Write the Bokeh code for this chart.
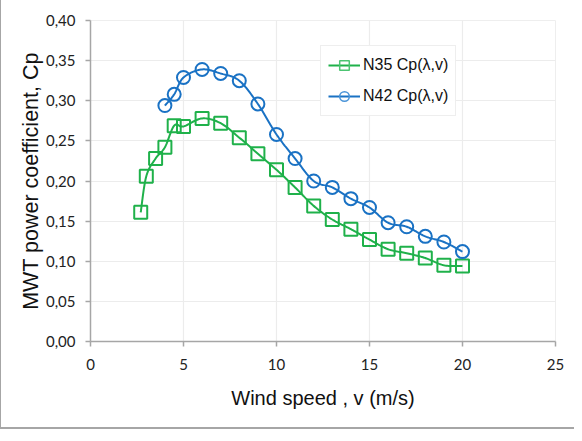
import numpy as np
from bokeh.plotting import figure
from bokeh.models import Legend, LegendItem, FixedTicker, Range1d
from bokeh.embed import file_html
from bokeh.resources import INLINE

# Data
v_n35 = [2.7, 3.0, 3.5, 4.0, 4.5, 5.0, 6, 7, 8, 9, 10, 11, 12, 13, 14, 15, 16, 17, 18, 19, 20]
cp_n35 = [0.161, 0.206, 0.228, 0.242, 0.269, 0.268, 0.278, 0.272, 0.254, 0.234, 0.214,
          0.192, 0.169, 0.152, 0.140, 0.127, 0.115, 0.110, 0.104, 0.095, 0.094]
v_n42 = [4.0, 4.5, 5.0, 6, 7, 8, 9, 10, 11, 12, 13, 14, 15, 16, 17, 18, 19, 20]
cp_n42 = [0.294, 0.308, 0.329, 0.339, 0.334, 0.325, 0.296, 0.258, 0.228, 0.200,
          0.192, 0.178, 0.167, 0.148, 0.143, 0.131, 0.124, 0.112]
x_ticks = [0, 5, 10, 15, 20, 25]
y_ticks = [0.00, 0.05, 0.10, 0.15, 0.20, 0.25, 0.30, 0.35, 0.40]
y_tick_labels = ["0,00", "0,05", "0,10", "0,15", "0,20", "0,25", "0,30", "0,35", "0,40"]
series_names = ["N35 Cp(\u03bb,v)", "N42 Cp(\u03bb,v)"]

GREEN = "#1fb14a"
BLUE = "#1a72c4"


def smooth(xs, ys, n=16):
    """Excel-style smoothed line (Catmull-Rom Bezier) drawn between data points."""
    x = np.asarray(xs, float)
    y = np.asarray(ys, float)
    px = np.concatenate([[x[0]], x, [x[-1]]])
    py = np.concatenate([[y[0]], y, [y[-1]]])
    ox, oy = [], []
    for i in range(1, len(px) - 2):
        p0x, p1x, p2x, p3x = px[i - 1], px[i], px[i + 1], px[i + 2]
        p0y, p1y, p2y, p3y = py[i - 1], py[i], py[i + 1], py[i + 2]
        c1x, c1y = p1x + (p2x - p0x) / 6, p1y + (p2y - p0y) / 6
        c2x, c2y = p2x - (p3x - p1x) / 6, p2y - (p3y - p1y) / 6
        t = np.linspace(0, 1, n, endpoint=False)
        b0, b1, b2, b3 = (1 - t) ** 3, 3 * (1 - t) ** 2 * t, 3 * (1 - t) * t ** 2, t ** 3
        ox.extend(b0 * p1x + b1 * c1x + b2 * c2x + b3 * p2x)
        oy.extend(b0 * p1y + b1 * c1y + b2 * c2y + b3 * p2y)
    ox.append(x[-1])
    oy.append(y[-1])
    return ox, oy


p = figure(width=575, height=432, output_backend="svg", toolbar_location=None,
           x_range=Range1d(0, 25), y_range=Range1d(0, 0.40),
           min_border_left=89, min_border_top=21, min_border_right=21, min_border_bottom=90)
p.styles = {"border-left": "2px solid #a6a6a6", "border-top": "2px solid #a6a6a6",
            "border-bottom": "2px solid #a6a6a6", "margin-top": "-3px", "margin-left": "-1px"}
p.background_fill_color = "white"
p.border_fill_color = "white"
p.outline_line_color = "#eeeeee"

sx, sy = smooth(v_n35, cp_n35)
l1 = p.line(sx, sy, line_color=GREEN, line_width=2)
m1 = p.scatter(v_n35, cp_n35, marker="square", size=13, fill_color=None,
               line_color=GREEN, line_width=2)
bx, by = smooth(v_n42, cp_n42)
l2 = p.line(bx, by, line_color=BLUE, line_width=2)
m2 = p.scatter(v_n42, cp_n42, marker="circle", size=13, fill_color=None,
               line_color=BLUE, line_width=2)

# smaller markers used only for the legend swatches (no visible data point)
lg1 = p.scatter([np.nan], [np.nan], marker="square", size=10, fill_color=None,
                line_color="#4cc472", line_width=1.5)
lg2 = p.scatter([np.nan], [np.nan], marker="circle", size=10, fill_color=None,
                line_color="#4a94d8", line_width=1.5)

p.xaxis.ticker = FixedTicker(ticks=x_ticks)
p.yaxis.ticker = FixedTicker(ticks=y_ticks)
p.yaxis.major_label_overrides = {t: l for t, l in zip(y_ticks, y_tick_labels)}

for ax in (p.xaxis[0], p.yaxis[0]):
    ax.axis_line_color = "#a6a6a6"
    ax.axis_line_width = 1.5
    ax.major_tick_line_color = "#a6a6a6"
    ax.major_tick_line_width = 1.5
    ax.major_tick_out = 5
    ax.major_tick_in = 0
    ax.minor_tick_line_color = None
    ax.major_label_text_font = "Lato"
    ax.major_label_text_font_size = "15px"
    ax.major_label_text_color = "#222222"
    ax.axis_label_text_font = "Liberation Sans"
    ax.axis_label_text_font_style = "normal"
    ax.axis_label_text_color = "#111111"

p.xaxis.major_label_standoff = 12
p.yaxis.major_label_standoff = 10
p.xaxis.axis_label = "Wind speed , v (m/s)"
p.xaxis.axis_label_text_font_size = "20px"
p.xaxis.axis_label_standoff = 14
p.yaxis.axis_label = "MWT power coefficient, Cp"
p.yaxis.axis_label_text_font_size = "21.5px"
p.yaxis.axis_label_standoff = 0

p.xgrid.grid_line_color = "#ececec"
p.ygrid.grid_line_color = "#ececec"
p.xgrid.grid_line_width = 1.2
p.ygrid.grid_line_width = 1.2

legend = Legend(items=[LegendItem(label=series_names[0], renderers=[l1, lg1]),
                       LegendItem(label=series_names[1], renderers=[l2, lg2])],
                location=(230, 225))
legend.border_line_color = "#dddddd"
legend.border_line_width = 1.5
legend.background_fill_color = "white"
legend.label_text_font = "Liberation Sans"
legend.label_text_font_size = "16px"
legend.label_text_color = "#111111"
legend.glyph_width = 32
legend.glyph_height = 24
legend.spacing = 7
legend.padding = 7
legend.margin = 0
legend.label_standoff = 3
p.add_layout(legend, "center")

open("out.html", "w").write(file_html(p, INLINE))
